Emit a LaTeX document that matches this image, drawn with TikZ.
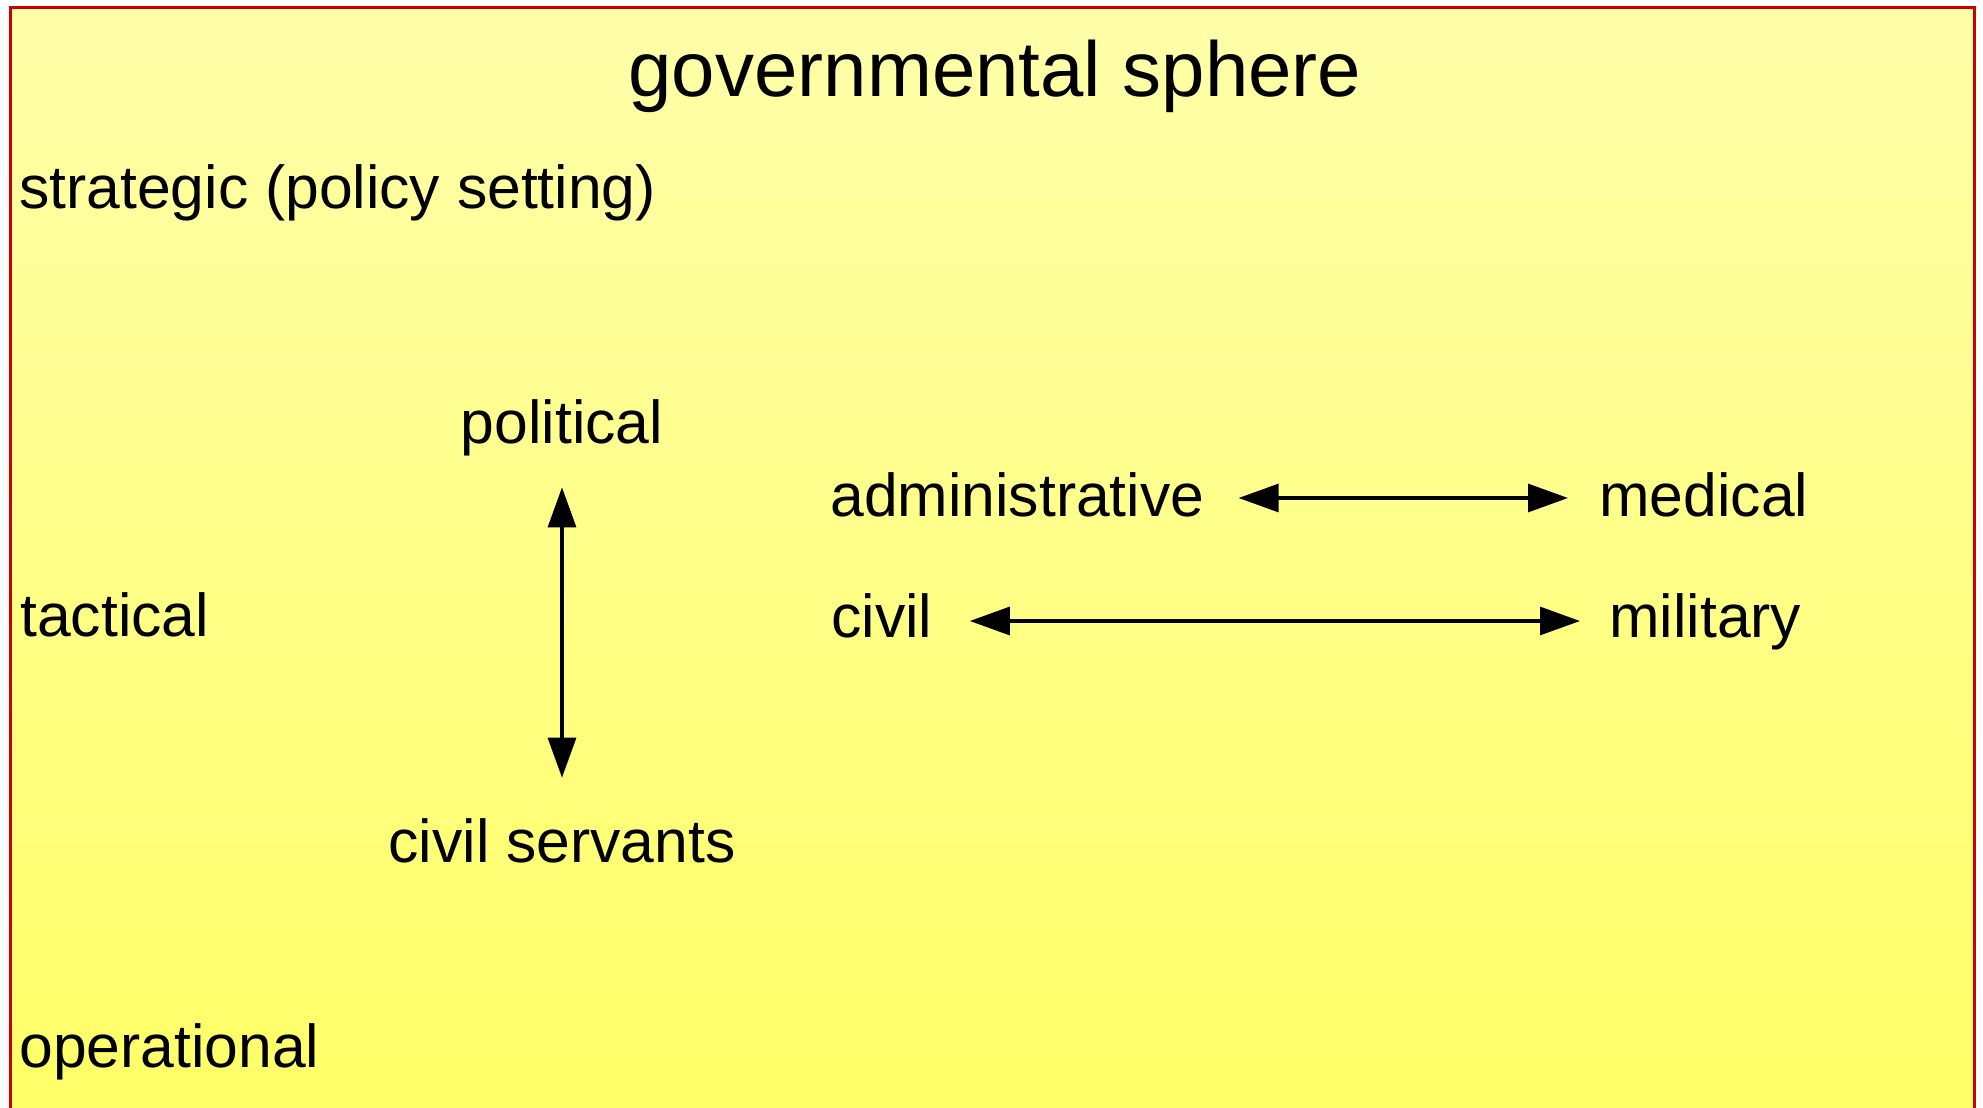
\documentclass[tikz,border=0pt]{standalone}
\usepackage{fontspec}
\setmainfont{Liberation Sans}
\usepackage{tikz}
\usetikzlibrary{arrows.meta}
\definecolor{spheretop}{RGB}{255,255,170}
\definecolor{spherebot}{RGB}{255,255,102}
\definecolor{sphereedge}{RGB}{204,0,0}
\tikzstyle{sphere} = [draw=sphereedge, line width=1.5pt, top color=spheretop, bottom color=spherebot]
\tikzstyle{spheretitle} = [inner sep=0pt, anchor=base, font=\fontsize{39}{47}\selectfont]
\tikzstyle{tier} = [inner sep=0pt, anchor=base west, font=\fontsize{30.3}{36}\selectfont]
\tikzstyle{actor} = [inner sep=0pt, font=\fontsize{30.3}{36}\selectfont]
\tikzstyle{link} = [{Triangle[length=20pt,width=14pt]}-{Triangle[length=20pt,width=14pt]}, line width=1.6pt]

\begin{document}
\begin{tikzpicture}[x=0.5pt, y=-0.5pt]
	\useasboundingbox (0,0) rectangle (1983,1108);
	\clip (0,0) rectangle (1983,1108);
	\path[sphere] (10,7) rectangle (1974,1130);
	\node[spheretitle] (title) at (995,97) {governmental sphere};
	% levels on the left
	\node[tier] (strategic) at (19,208) {strategic (policy setting)};
	\node[tier] (tactical) at (20,636) {tactical};
	\node[tier] (operational) at (19,1067) {operational};
	% actors
	\node[actor, anchor=base] (political) at (562,443) {political};
	\node[actor, anchor=base] (servants) at (562,862) {civil servants};
	\node[actor, anchor=base west] (admin) at (830,516) {administrative};
	\node[actor, anchor=base west] (medical) at (1599,516) {medical};
	\node[actor, anchor=base west] (civil) at (831,637) {civil};
	\node[actor, anchor=base west] (military) at (1609,637) {military};
	\draw[link, shorten <=15.7pt, shorten >=20pt] (political) -- (servants);
	\draw[link, shorten <=17pt, shorten >=15.5pt] ([yshift=9pt]admin.base east) -- ([yshift=9pt]medical.base west);
	\draw[link, shorten <=18.5pt, shorten >=14.5pt] ([yshift=8pt]civil.base east) -- ([yshift=8pt]military.base west);
\end{tikzpicture}
\end{document}
